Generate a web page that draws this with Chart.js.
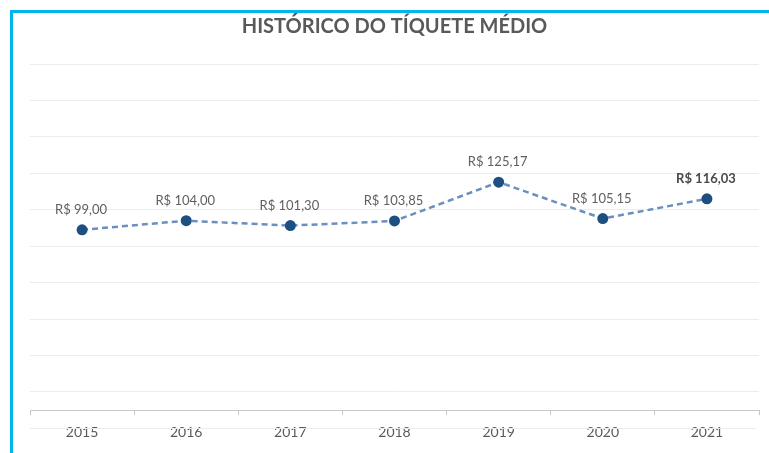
<!DOCTYPE html>
<html>
<head>
<meta charset="utf-8">
<script src="https://cdn.jsdelivr.net/npm/chart.js@4/dist/chart.umd.min.js"></script>
<style>
  html, body { margin: 0; padding: 0; background: #fff; }
  #wrap { position: relative; width: 769px; height: 453px; }
  #frame { position: absolute; left: 10px; top: 10px; right: 0; bottom: 0;
    border-left: 3px solid #00b4f1; border-top: 3px solid #00b4f1; pointer-events: none; }
</style>
</head>
<body>
<div id="wrap">
  <div id="frame"></div>
  <canvas id="chart"></canvas>
</div>
<script>
'use strict';
const years = ['2015', '2016', '2017', '2018', '2019', '2020', '2021'];
const ticket = [99.00, 104.00, 101.30, 103.85, 125.17, 105.15, 116.03];
const gridValues = [-10, 10, 30, 50, 70, 90, 110, 130, 150, 170, 190];

const fmt = (v) => 'R$ ' + v.toFixed(2).replace('.', ',');

// labels above each point, the last one in bold
const pointLabels = {
  id: 'pointLabels',
  afterDatasetsDraw(chart) {
    const ctx = chart.ctx, meta = chart.getDatasetMeta(0);
    ctx.save();
    ctx.textAlign = 'center'; ctx.textBaseline = 'middle';
    meta.data.forEach((pt, i) => {
      const last = i === ticket.length - 1;
      ctx.font = (last ? 'bold ' : '') + '13px Lato';
      ctx.fillStyle = last ? '#4a4a4a' : '#606060';
      ctx.fillText(fmt(ticket[i]), pt.x - 1, pt.y - 20);
    });
    ctx.restore();
  }
};

// the gridline below the zero axis (under the year labels)
const lowGrid = {
  id: 'lowGrid',
  beforeDatasetsDraw(chart) {
    const { ctx, chartArea, scales } = chart;
    const y = Math.round(scales.y.getPixelForValue(gridValues[0])) + 0.5;
    ctx.save();
    ctx.strokeStyle = '#ececec'; ctx.lineWidth = 1;
    ctx.beginPath(); ctx.moveTo(chartArea.left, y); ctx.lineTo(chartArea.right - 3, y); ctx.stroke();
    ctx.restore();
  }
};

new Chart(document.getElementById('chart'), {
  type: 'line',
  data: {
    labels: years,
    datasets: [{
      data: ticket,
      borderColor: '#6b8fbe',
      borderWidth: 2.5,
      borderDash: [6, 4],
      pointRadius: 5.5,
      pointBackgroundColor: '#1d4f80',
      pointBorderColor: '#1d4f80',
      pointBorderWidth: 0,
      tension: 0
    }]
  },
  options: {
    responsive: true, maintainAspectRatio: false, animation: false,
    layout: { padding: { left: 30, right: 10, top: 0, bottom: 3 } },
    plugins: {
      legend: { display: false },
      tooltip: { enabled: false },
      title: {
        display: true,
        text: 'HISTÓRICO DO TÍQUETE MÉDIO',
        color: '#595959',
        font: { family: 'Lato', size: 20, weight: 'bold' },
        padding: { top: 15, bottom: 25 }
      }
    },
    scales: {
      x: {
        offset: true,
        grid: { offset: true, drawOnChartArea: false, drawTicks: true, tickLength: 5, color: '#c8c8c8' },
        border: { display: true, color: '#c8c8c8', width: 1 },
        ticks: { color: '#595959', font: { family: 'Lato', size: 14 }, padding: 9 }
      },
      y: {
        min: 0, max: 190,
        afterBuildTicks: (s) => { s.ticks = gridValues.filter((v) => v >= 0).map((v) => ({ value: v })); },
        grid: { color: '#ececec', drawTicks: false },
        border: { display: false },
        ticks: { display: false }
      }
    }
  },
  plugins: [pointLabels, lowGrid]
});
</script>
</body>
</html>
